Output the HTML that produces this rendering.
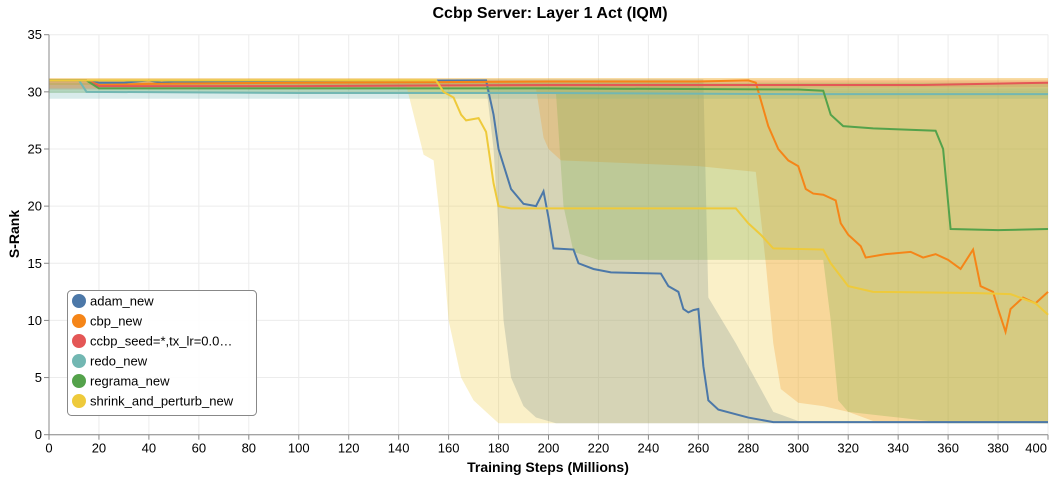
<!DOCTYPE html>
<html><head><meta charset="utf-8"><style>
body{margin:0;background:#fff}
svg{display:block;font-family:"Liberation Sans",Arial,sans-serif}
</style></head><body>
<svg id="chart" width="1054" height="480"></svg>
<script>
const categories=["adam_new","cbp_new","ccbp_seed=*,tx_lr=0.0…","redo_new","regrama_new","shrink_and_perturb_new"];
const colors=["#4c78a8","#f58518","#e45756","#72b7b2","#54a24b","#eeca3b"];
const xTicks=[0,20,40,60,80,100,120,140,160,180,200,220,240,260,280,300,320,340,360,380,400];
const yTicks=[0,5,10,15,20,25,30,35];
const adamLine=[[0,31],[15,31],[20,30.8],[30,30.8],[40,31],[45,30.8],[50,30.9],[175,31],[178,28],[180,25],[185,21.5],[190,20.2],[195,20],[198,21.3],[200,19],[202,16.3],[210,16.2],[212,15],[218,14.5],[225,14.2],[245,14.1],[248,13],[252,12.5],[254,11],[256,10.7],[258,10.9],[260,11],[262,6],[264,3],[268,2.2],[280,1.5],[290,1.1],[400,1.1]];
const cbpLine=[[0,31],[15,31],[20,30.6],[40,30.7],[100,30.8],[200,30.9],[260,30.9],[280,31],[283,30.8],[288,27],[292,25],[296,24],[300,23.5],[303,21.5],[306,21.1],[310,21],[315,20.5],[317,18.5],[320,17.5],[325,16.5],[327,15.5],[335,15.8],[345,16],[350,15.5],[355,15.8],[360,15.3],[365,14.5],[370,16.2],[373,13],[378,12.5],[380,11],[383,9],[385,11],[390,12],[395,11.5],[400,12.5]];
const ccbpLine=[[0,31],[15,31],[20,30.5],[100,30.5],[200,30.6],[300,30.6],[350,30.6],[400,30.8]];
const redoLine=[[0,31],[12,31],[15,30],[100,29.9],[200,29.9],[300,29.8],[400,29.8]];
const regramaLine=[[0,31],[15,31],[20,30.3],[100,30.3],[200,30.3],[300,30.2],[310,30.1],[313,28],[318,27],[330,26.8],[355,26.6],[358,25],[361,18],[380,17.9],[400,18]];
const shrinkLine=[[0,31],[155,31],[158,30],[162,29.5],[165,28],[167,27.5],[172,27.7],[175,26.5],[178,22],[180,20],[185,19.8],[275,19.8],[280,18.5],[285,17.5],[290,16.3],[310,16.2],[313,15],[320,13],[330,12.5],[370,12.4],[385,12.3],[395,11.5],[400,10.5]];
const adamLow=[[0,30.6],[175,30.6],[178,25],[180,18],[182,10],[185,5],[190,2.5],[195,1.5],[203,1],[400,1]];
const cbpLow=[[0,30.3],[195,30.3],[198,26],[200,25],[205,24],[260,23.5],[283,23],[287,15],[290,8],[293,4],[300,2.8],[310,2.5],[320,2],[330,1.2],[400,1]];
const ccbpLow=[[0,30.2],[400,30.4]];
const redoLow=[[0,29.4],[400,29.4]];
const regramaLow=[[0,29.9],[203,29.9],[206,20],[210,16],[220,15.3],[310,15.3],[313,10],[316,3],[320,2],[340,1.5],[360,1],[400,1]];
const shrinkLow=[[0,30.6],[143,30.6],[146,28],[150,24.5],[154,24],[157,18],[160,10],[165,5],[170,3],[175,2],[180,1],[400,1]];
const adamHigh=[[0,31.1],[262,31.1],[264,12],[275,8],[285,4],[290,2],[300,1.2],[400,1.2]];
const cbpHigh=[[0,31.2],[400,31.2]];
const ccbpHigh=[[0,31.0],[400,31.0]];
const redoHigh=[[0,30.3],[400,30.3]];
const regramaHigh=[[0,30.8],[400,30.8]];
const shrinkHigh=[[0,31.2],[400,31.2]];
const lines=[adamLine,cbpLine,ccbpLine,redoLine,regramaLine,shrinkLine];
const lows=[adamLow,cbpLow,ccbpLow,redoLow,regramaLow,shrinkLow];
const highs=[adamHigh,cbpHigh,ccbpHigh,redoHigh,regramaHigh,shrinkHigh];

const NS="http://www.w3.org/2000/svg";
const svg=document.getElementById('chart');
const X0=49,X1=1048,Y0=434.7,Y1=34.7;
const xs=v=>X0+(X1-X0)*v/400;
const ys=v=>Y0-(Y0-Y1)*v/35;
function mk(t,a,p){const e=document.createElementNS(NS,t);for(const k in a)e.setAttribute(k,a[k]);(p||svg).appendChild(e);return e;}
xTicks.forEach(t=>{const g=mk('line',{x1:xs(t),x2:xs(t),y1:Y1,y2:Y0,stroke:'#ececec'});

});
yTicks.forEach(t=>{const g=mk('line',{x1:X0,x2:X1,y1:ys(t),y2:ys(t),stroke:'#ececec'});

});
lows.forEach((lo,i)=>{
  const hi=highs[i];
  let d='M'+hi.map(q=>xs(q[0])+','+ys(q[1])).join(' L');
  for(let j=lo.length-1;j>=0;j--)d+=' L'+xs(lo[j][0])+','+ys(lo[j][1]);
  const p=mk('path',{d:d+'Z',fill:colors[i],'fill-opacity':0.28,stroke:'none'});
  
  
});
lines.forEach((ln,i)=>{
  const p=mk('path',{d:'M'+ln.map(q=>xs(q[0])+','+ys(q[1])).join(' L'),fill:'none',stroke:colors[i],'stroke-width':2});
  
  
});
mk('line',{x1:X0,x2:X0,y1:Y1,y2:Y0,stroke:'#888'});
mk('line',{x1:X0,x2:X1,y1:Y0,y2:Y0,stroke:'#888'});
xTicks.forEach((t,k)=>{mk('line',{x1:xs(t),x2:xs(t),y1:Y0,y2:Y0+5,stroke:'#888'});
const last=k===xTicks.length-1;
const tx=mk('text',{x:last?xs(t)-1:xs(t),y:Y0+18,'text-anchor':last?'end':'middle','font-size':13,fill:'#000'});tx.textContent=t;

});
yTicks.forEach(t=>{mk('line',{x1:X0-5,x2:X0,y1:ys(t),y2:ys(t),stroke:'#888'});
const tx=mk('text',{x:X0-7,y:ys(t)+4.5,'text-anchor':'end','font-size':13,fill:'#000'});tx.textContent=t;

});
const lg=mk('g',{});


mk('rect',{x:67.5,y:290.5,width:189,height:125,rx:4,fill:'#fff','fill-opacity':0.9,stroke:'#888'},lg);
categories.forEach((c,i)=>{
  const y=301+i*20;
  const e=mk('g',{},lg);
  
  
  mk('circle',{cx:79,cy:y,r:7,fill:colors[i]},e);
  const t=mk('text',{x:90,y:y+4.5,'font-size':13,fill:'#000'},e);t.textContent=c;
});
</script>
<svg style="position:absolute;left:0;top:0" width="1054" height="480">
<text x="550" y="18" text-anchor="middle" font-size="16" font-weight="bold" font-family="Liberation Sans,sans-serif">Ccbp Server: Layer 1 Act (IQM)</text>
<text x="548" y="472" text-anchor="middle" font-size="14" font-weight="bold" font-family="Liberation Sans,sans-serif">Training Steps (Millions)</text>
<text transform="translate(19,234) rotate(-90)" text-anchor="middle" font-size="14" font-weight="bold" font-family="Liberation Sans,sans-serif">S-Rank</text>
</svg>
</body></html>
